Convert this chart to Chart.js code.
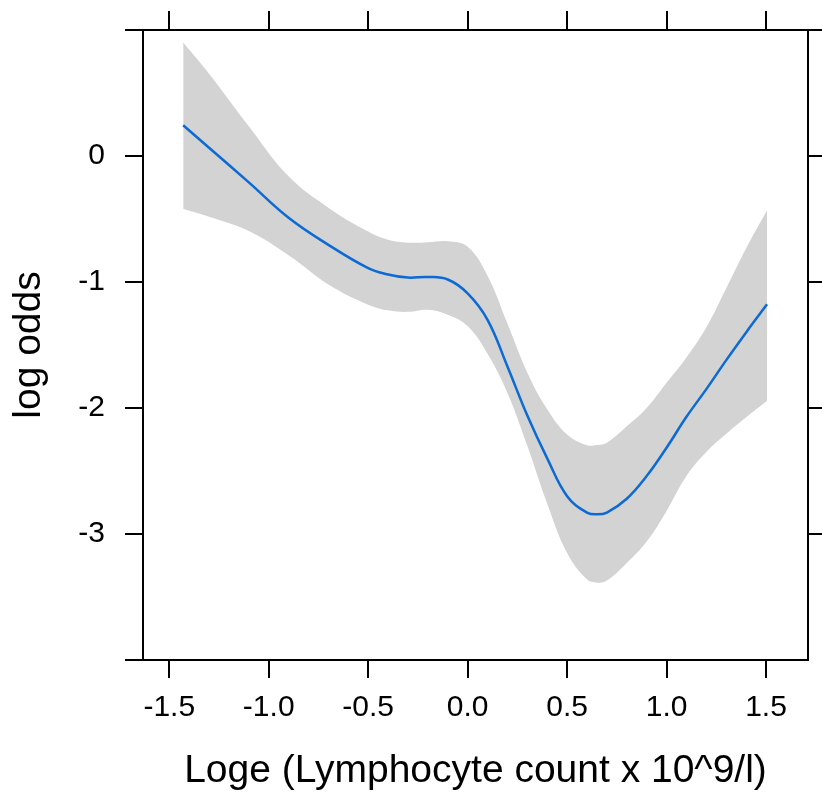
<!DOCTYPE html>
<html>
<head>
<meta charset="utf-8">
<script src="https://cdn.jsdelivr.net/npm/chart.js@4.4.1/dist/chart.umd.min.js"></script>
<style>
  body { margin: 0; background: #fff; }
  canvas { display: block; }
</style>
</head>
<body>
<canvas id="spline" width="822" height="798"></canvas>
<script>
// values
let lymph = [-1.43, -1.3, -1.1, -0.9, -0.7, -0.5, -0.4, -0.3, -0.2, -0.1, 0, 0.1, 0.2, 0.3, 0.4, 0.5, 0.6, 0.65, 0.7, 0.8, 0.9, 1.0, 1.1, 1.2, 1.3, 1.4, 1.505];
let fit = [0.244, 0.066, -0.209, -0.49, -0.705, -0.89, -0.94, -0.965, -0.96, -0.98, -1.09, -1.30, -1.67, -2.06, -2.40, -2.70, -2.83, -2.844, -2.83, -2.72, -2.54, -2.315, -2.07, -1.85, -1.62, -1.40, -1.177];
let upper = [0.90, 0.653, 0.236, -0.161, -0.41, -0.60, -0.665, -0.688, -0.684, -0.677, -0.72, -0.95, -1.33, -1.72, -2.01, -2.21, -2.295, -2.294, -2.275, -2.145, -2.00, -1.80, -1.60, -1.36, -1.05, -0.733, -0.43];
let lower = [-0.418, -0.482, -0.595, -0.788, -1.02, -1.18, -1.225, -1.237, -1.22, -1.26, -1.35, -1.57, -1.88, -2.30, -2.76, -3.15, -3.36, -3.386, -3.37, -3.23, -3.06, -2.817, -2.54, -2.35, -2.205, -2.073, -1.944];

let x_ticks = [-1.5, -1.0, -0.5, 0.0, 0.5, 1.0, 1.5];
let y_ticks = [-4, -3, -2, -1, 0, 1];
let y_ticks_right = [-3, -2, -1, 0, 1];
let y_labelled = [-3, -2, -1, 0];

let x_min = -1.632, x_max = 1.711;
let y_min = -4, y_max = 1;

function pts(ys) {
    return lymph.map(function (x, i) { return {x: x, y: ys[i]}; });
}

function setTicks(list) {
    return function (scale) {
        scale.ticks = list.map(function (v) { return {value: v}; });
    };
}

// fixed box sizes so the plot area lands where it is in the picture
function fixSize(w, h) {
    return function (s) {
        if (w !== null) s.width = w;
        if (h !== null) s.height = h;
        s.paddingTop = s.paddingBottom = s.paddingLeft = s.paddingRight = 0;
    };
}

Chart.defaults.font.family = '"Liberation Sans", Arial, sans-serif';
Chart.defaults.color = '#000';

let axisLine = {drawOnChartArea: false, drawTicks: true, tickLength: 18, color: '#000', lineWidth: 2};
let axisBorder = {display: true, color: '#000', width: 2};

let config = {
    type: 'line',
    data: {
        datasets: [
            {
                data: pts(fit),
                borderColor: '#0b6ad4',
                borderWidth: 2.5,
                pointRadius: 0,
                fill: false,
                tension: 0.4
            },
            {
                data: pts(upper),
                borderWidth: 0,
                borderColor: 'rgba(0,0,0,0)',
                backgroundColor: '#d3d3d3',
                pointRadius: 0,
                fill: '+1',
                tension: 0.4
            },
            {
                data: pts(lower),
                borderWidth: 0,
                borderColor: 'rgba(0,0,0,0)',
                pointRadius: 0,
                fill: false,
                tension: 0.4
            }
        ]
    },
    options: {
        responsive: false,
        animation: false,
        layout: {padding: 0},
        plugins: {legend: {display: false}, tooltip: {enabled: false}},
        scales: {
            x: {
                type: 'linear',
                position: 'bottom',
                min: x_min,
                max: x_max,
                afterBuildTicks: setTicks(x_ticks),
                afterFit: fixSize(null, 138),
                grid: axisLine,
                border: axisBorder,
                ticks: {
                    font: {size: 30},
                    padding: 12,
                    maxRotation: 0,
                    autoSkip: false,
                    callback: function (v) { return v.toFixed(1); }
                },
                title: {
                    display: true,
                    text: 'Loge (Lymphocyte count x 10^9/l)',
                    font: {size: 39},
                    padding: {top: 0, bottom: 3}
                }
            },
            x2: {
                type: 'linear',
                position: 'top',
                min: x_min,
                max: x_max,
                afterBuildTicks: setTicks(x_ticks),
                afterFit: fixSize(null, 30),
                grid: Object.assign({}, axisLine, {tickLength: 19}),
                border: axisBorder,
                ticks: {display: false}
            },
            y: {
                type: 'linear',
                position: 'left',
                min: y_min,
                max: y_max,
                afterBuildTicks: setTicks(y_ticks),
                afterFit: fixSize(143, null),
                grid: axisLine,
                border: axisBorder,
                ticks: {
                    font: {size: 30},
                    padding: 20,
                    autoSkip: false,
                    callback: function (v) { return y_labelled.indexOf(v) >= 0 ? String(v) : ''; }
                },
                title: {
                    display: true,
                    text: 'log odds',
                    font: {size: 39},
                    padding: {top: 6, bottom: 0}
                }
            },
            y2: {
                type: 'linear',
                position: 'right',
                min: y_min,
                max: y_max,
                afterBuildTicks: setTicks(y_ticks_right),
                afterFit: fixSize(14, null),
                grid: axisLine,
                border: axisBorder,
                ticks: {display: false}
            }
        }
    }
};

let ctx = document.getElementById('spline').getContext('2d');
window.splinePlot = new Chart(ctx, config);
</script>
</body>
</html>
